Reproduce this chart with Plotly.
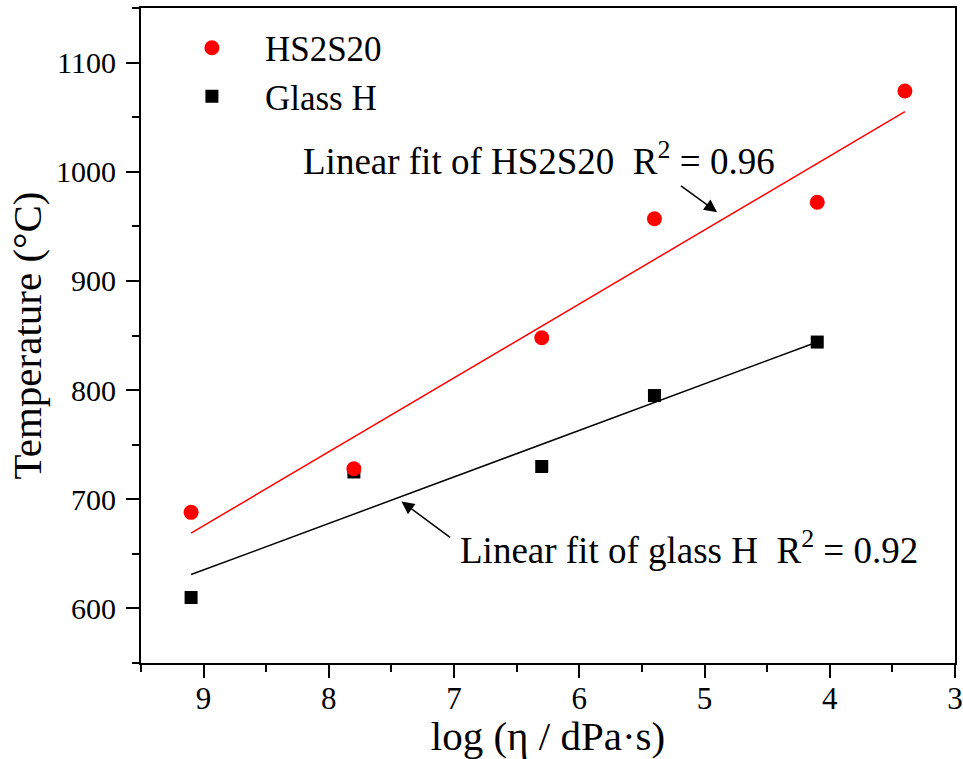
import plotly.graph_objects as go

# Data
hs_x = [9.1, 7.8, 6.3, 5.4, 4.1, 3.4]
hs_y = [688, 728, 848, 957, 972, 1074]
gh_x = [9.1, 7.8, 6.3, 5.4, 4.1]
gh_y = [610, 725, 730, 795, 844]

# Linear fit lines (end points)
fit_hs_x = [9.1, 3.4]
fit_hs_y = [669, 1055]
fit_gh_x = [9.1, 4.1]
fit_gh_y = [631, 844]

x_ticks = [9, 8, 7, 6, 5, 4, 3]
y_ticks = [600, 700, 800, 900, 1000, 1100]

FONT = "Liberation Serif"

fig = go.Figure()
fig.add_trace(go.Scatter(x=fit_hs_x, y=fit_hs_y, mode="lines",
                         line=dict(color="#ff0000", width=1.5), showlegend=False))
fig.add_trace(go.Scatter(x=fit_gh_x, y=fit_gh_y, mode="lines",
                         line=dict(color="#000000", width=1.5), showlegend=False))
fig.add_trace(go.Scatter(x=gh_x, y=gh_y, mode="markers", name="Glass H",
                         marker=dict(symbol="square", size=13, color="#000000")))
fig.add_trace(go.Scatter(x=hs_x, y=hs_y, mode="markers", name="HS2S20",
                         marker=dict(symbol="circle", size=15, color="#ff0000")))

axis_common = dict(
    showline=True, linecolor="black", linewidth=2, mirror=True,
    ticks="outside", ticklen=13, tickwidth=2, tickcolor="black",
    showgrid=False, zeroline=False, automargin=False,
)

fig.update_xaxes(range=[9.5, 3], tickvals=x_ticks, ticklabelstandoff=-6,
                 tickfont=dict(family=FONT, size=31, color="black"),
                 minor=dict(dtick=0.5, ticks="outside", ticklen=7, tickwidth=2, tickcolor="black"),
                 title=dict(text="log (η / dPa·s)", font=dict(family=FONT, size=41, color="black"), standoff=0),
                 **axis_common)
fig.update_yaxes(range=[550, 1150], tickvals=y_ticks, ticklabelstandoff=4,
                 tickfont=dict(family=FONT, size=30, color="black"),
                 minor=dict(dtick=50, ticks="outside", ticklen=7, tickwidth=2, tickcolor="black"),
                 title=dict(text="Temperature (°C)", font=dict(family=FONT, size=41, color="black"), standoff=2),
                 **axis_common)

fig.add_annotation(x=4.90, y=963, ax=5.20, ay=988, xref="x", yref="y", axref="x", ayref="y",
                   text="", showarrow=True, arrowhead=2, arrowsize=1.7, arrowwidth=1.5, arrowcolor="black")
fig.add_annotation(x=7.42, y=698, ax=7.02, ay=664, xref="x", yref="y", axref="x", ayref="y",
                   text="", showarrow=True, arrowhead=2, arrowsize=1.7, arrowwidth=1.5, arrowcolor="black")
fig.add_annotation(x=8.22, y=1012, xref="x", yref="y", xanchor="left", yanchor="middle",
                   text="Linear fit of HS2S20  R<sup>2</sup> = 0.96", showarrow=False,
                   font=dict(family=FONT, size=37, color="black"))
fig.add_annotation(x=6.97, y=656, xref="x", yref="y", xanchor="left", yanchor="middle",
                   text="Linear fit of glass H  R<sup>2</sup> = 0.92", showarrow=False,
                   font=dict(family=FONT, size=37, color="black"))

fig.update_layout(
    width=963, height=759,
    margin=dict(l=141, r=8, t=8, b=96),
    paper_bgcolor="white", plot_bgcolor="white",
    font=dict(family=FONT, color="black"),
    legend=dict(x=0.022, y=0.984, xanchor="left", yanchor="top",
                traceorder="reversed", bgcolor="rgba(0,0,0,0)",
                font=dict(family=FONT, size=35, color="black"),
                itemwidth=96),
)

fig.write_html("out.html",
               config={"displayModeBar": False},
               post_script="document.body.style.margin='0';"
                           "document.documentElement.style.overflow='hidden';")
